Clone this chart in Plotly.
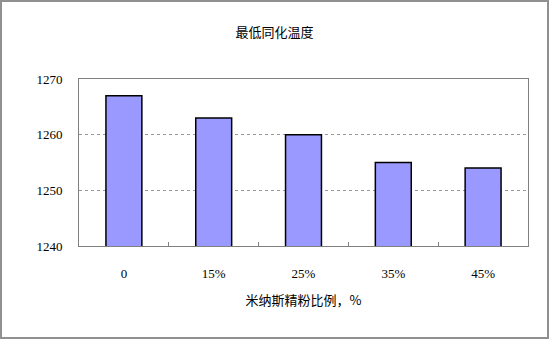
import plotly.graph_objects as go

categories = ["0", "15%", "25%", "35%", "45%"]
values = [1267, 1263, 1260, 1255, 1254]
y_ticks = [1240, 1250, 1260, 1270]

W, H = 549, 339
L, R, T, B = 79, 21, 79, 93
pw, ph = W - L - R, H - T - B

font = "Noto Sans CJK SC, Liberation Serif, serif"
num_font = "Liberation Serif, serif"

fig = go.Figure(go.Bar(
    x=categories, y=values,
    marker=dict(color="#9999FF", line=dict(color="black", width=1.5)),
    width=0.4,
))

fig.update_layout(
    width=W, height=H,
    margin=dict(l=L, r=R, t=T, b=B),
    paper_bgcolor="white", plot_bgcolor="white",
    showlegend=False,
    font=dict(family=font, size=12, color="black"),
    title=dict(text="最低同化温度", x=0.5, xref="container", xanchor="center",
               y=1 - 32 / H, yref="container", yanchor="middle",
               font=dict(size=13, family=font)),
)

fig.update_xaxes(
    type="category",
    showline=True, linecolor="#808080", linewidth=1,
    mirror=True,
    ticks="inside", tickson="boundaries", ticklen=4, tickcolor="#808080",
    showgrid=False,
    ticklabelstandoff=15,
    tickfont=dict(size=13, family=num_font),
    title=dict(text="米纳斯精粉比例，%", standoff=16, font=dict(size=13, family=font)),
)
fig.update_yaxes(
    range=[1240, 1270], tickvals=y_ticks,
    showline=True, linecolor="#808080", linewidth=1, mirror=True,
    showgrid=True, gridcolor="#999999", griddash="dot", gridwidth=1,
    ticks="", zeroline=False,
    ticklabelstandoff=13,
    tickfont=dict(size=13, family=num_font),
)

# outer frame of the chart area
fig.add_shape(type="rect", xref="paper", yref="paper",
              x0=-(L - 1) / pw, x1=1 + (R - 1) / pw,
              y0=-(B - 1) / ph, y1=1 + (T - 1) / ph,
              line=dict(color="#909090", width=2), layer="above")

fig.write_html("out.html", config={"displayModeBar": False},
               post_script="document.body.style.margin='0';")
